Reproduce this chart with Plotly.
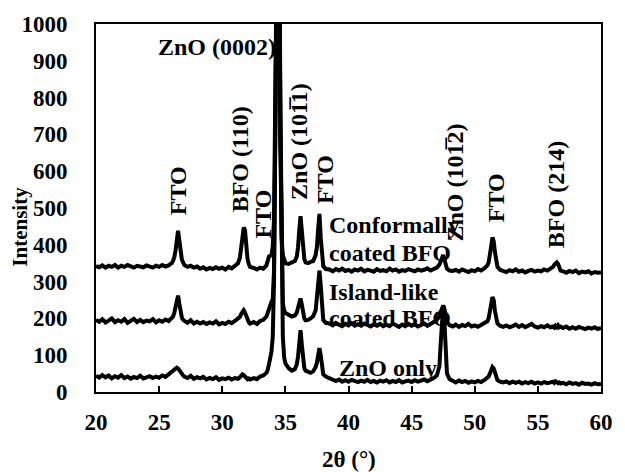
import plotly.graph_objects as go

two_theta = [
    20.0, 20.25, 20.5, 20.75, 21.0, 21.25, 21.5, 21.75, 22.0, 22.25, 22.5, 22.75, 23.0, 23.25, 23.5, 23.75, 24.0, 24.25, 24.5, 24.75, 25.0, 25.25, 25.5, 25.75, 26.0,
    26.1, 26.2, 26.3, 26.4, 26.5, 26.6, 26.7, 26.8, 26.9,
    27.0, 27.25, 27.5, 27.75, 28.0, 28.25, 28.5, 28.75, 29.0, 29.25, 29.5, 29.75, 30.0, 30.25, 30.5, 30.75, 31.0, 31.25,
    31.4, 31.5, 31.6, 31.7, 31.8, 31.9, 32.0, 32.1, 32.2,
    32.5, 32.75, 33.0, 33.25, 33.5,
    33.6, 33.7, 33.8, 33.9, 34.0, 34.1, 34.2, 34.3, 34.4, 34.5, 34.6, 34.7, 34.8, 34.9, 35.0,
    35.25, 35.5, 35.75,
    35.9, 36.0, 36.1, 36.2, 36.3, 36.4, 36.5, 36.6,
    36.8, 37.0, 37.2, 37.4,
    37.5, 37.6, 37.7, 37.8, 37.9, 38.0, 38.2,
    38.5, 38.75, 39.0, 39.25, 39.5, 39.75, 40.0, 40.25, 40.5, 40.75, 41.0, 41.25, 41.5, 41.75, 42.0, 42.25, 42.5, 42.75,
    43.0, 43.25, 43.5, 43.75, 44.0, 44.25, 44.5, 44.75, 45.0, 45.25, 45.5, 45.75, 46.0, 46.25, 46.5, 46.75, 47.0,
    47.2, 47.3, 47.4, 47.5, 47.6, 47.7, 47.8, 48.0,
    48.25, 48.5, 48.75, 49.0, 49.25, 49.5, 49.75, 50.0, 50.25, 50.5, 50.75, 51.0,
    51.1, 51.2, 51.3, 51.4, 51.5, 51.6, 51.7, 51.8, 52.0,
    52.25, 52.5, 52.75, 53.0, 53.25, 53.5, 53.75, 54.0, 54.25, 54.5, 54.75, 55.0, 55.25, 55.5, 55.75, 56.0,
    56.2, 56.3, 56.4, 56.5, 56.6, 56.7, 56.8,
    57.0, 57.25, 57.5, 57.75, 58.0, 58.25, 58.5, 58.75, 59.0, 59.25, 59.5, 59.75, 60.0,
]

conformal_bfo = [
    342, 339, 344, 338, 343, 340, 345, 338, 343, 340, 345, 341, 338, 343, 340, 339, 344, 342, 338, 343, 340, 345, 341, 344, 350,
    356, 366, 385, 420, 438, 412, 378, 360, 352,
    345, 340, 343, 338, 341, 335, 339, 333, 337, 334, 339, 335, 338, 333, 340, 336, 342, 350,
    365, 392, 425, 447, 440, 398, 362, 348, 340,
    337, 333, 338, 335, 344,
    356, 368, 370, 372, 395, 470, 800, 1400, 1500, 1400, 700, 420, 372, 358, 350,
    348, 352, 356,
    368, 392, 440, 478, 440, 390, 362, 352,
    350, 354, 356, 372,
    395, 445, 484, 420, 365, 342, 334,
    333, 328, 334, 330, 335, 329, 332, 327, 333, 330, 335, 328, 332, 330, 327, 334, 329, 331,
    328, 335, 330, 333, 327, 331, 329, 334, 330, 328, 333, 330, 332, 336, 330, 334, 338,
    346, 356, 368, 372, 360, 345, 335, 330,
    329, 332, 327, 333, 330, 326, 331, 328, 334, 330, 336, 344,
    352, 368, 395, 420, 410, 380, 352, 340, 332,
    329, 326, 331, 328, 333, 327, 330, 325, 329, 332, 327, 330, 328, 333, 330, 336,
    340, 346, 350, 352, 348, 338, 330,
    328, 324, 329, 326, 330, 323, 327, 325, 328, 322, 326, 324, 325,
]

island_bfo = [
    196, 191, 198, 189, 194, 200, 190, 195, 191, 198, 188, 193, 199, 190, 196, 190, 194, 192, 198, 189, 195, 191, 197, 193, 200,
    205, 215, 232, 252, 262, 240, 215, 202, 196,
    193, 188, 195, 186, 191, 186, 190, 185, 189, 186, 192, 184, 188, 185, 191, 187, 193, 198,
    204, 212, 220, 222, 216, 205, 196, 190, 186,
    190, 185, 193, 196, 205,
    215, 228, 238, 245, 252, 330, 700, 1300, 1500, 1400, 700, 330, 240, 222, 215,
    210, 205, 208,
    215, 228, 245, 254, 238, 212, 200, 195,
    196, 200, 206, 222,
    255, 300, 330, 290, 225, 196, 188,
    186, 181, 188, 183, 179, 185, 181, 187, 180, 184, 180, 186, 182, 178, 184, 180, 185, 179,
    183, 179, 186, 181, 177, 183, 179, 185, 180, 184, 178, 182, 186, 180, 184, 190, 196,
    205, 218, 230, 235, 225, 205, 190, 182,
    178, 183, 177, 182, 179, 185, 178, 181, 177, 182, 186, 192,
    200, 215, 238, 258, 250, 220, 197, 186, 180,
    177, 181, 176, 179, 183, 177, 182, 176, 180, 185, 178, 175, 179, 176, 181, 176,
    178, 175, 180, 176, 181, 176, 178,
    174, 178, 172, 176, 172, 177, 173, 171, 175, 172, 176, 171, 174,
]

zno_only = [
    44, 39, 46, 40, 45, 37, 43, 39, 46, 38, 42, 36, 41, 38, 44, 37, 40, 43, 38, 42, 39, 45, 41, 48, 52,
    55, 58, 62, 66, 64, 58, 52, 48, 45,
    42, 38, 44, 36, 40, 37, 41, 34, 38, 35, 40, 33, 37, 35, 39, 34, 38, 36,
    40, 44, 48, 46, 42, 38, 35, 37, 34,
    38, 35, 42, 45, 52,
    60, 75, 90, 110, 150, 300, 700, 1400, 1500, 1400, 800, 300, 150, 95, 78,
    65, 58, 62,
    75, 95, 140, 168, 130, 85, 65, 58,
    55, 52, 56, 68,
    80, 100, 119, 100, 65, 48, 42,
    38, 33, 30, 34, 28, 32, 28, 33, 29, 27, 31, 28, 33, 27, 30, 26, 31, 28,
    32, 26, 30, 27, 32, 26, 29, 31, 27, 32, 28, 30, 34, 29, 33, 38, 45,
    70, 130, 210, 235, 190, 90, 50, 35,
    30, 26, 31, 27, 30, 25, 29, 26, 30, 27, 32, 38,
    42, 50, 60, 68, 64, 50, 38, 32, 28,
    26, 29, 24, 28, 25, 28, 23, 27, 24, 28, 23, 26, 23, 27, 24, 26,
    28, 25, 29, 27, 24, 26, 23,
    25, 21, 26, 22, 24, 20, 25, 22, 23, 20, 24, 21, 22,
]

x_ticks = [20, 25, 30, 35, 40, 45, 50, 55, 60]
y_ticks = [0, 100, 200, 300, 400, 500, 600, 700, 800, 900, 1000]

peak_labels = [
    ("FTO", 26.5, 546),
    ("BFO (110)", 31.4, 632),
    ("FTO", 33.2, 484),
    ("ZnO (101\u03051)", 36.12, 681),
    ("FTO", 38.14, 576),
    ("ZnO (101\u03052)", 48.4, 568),
    ("FTO", 51.7, 527),
    ("BFO (214)", 56.5, 537),
]

sample_labels = [
    ("Conformally", 38.3, 454),
    ("coated BFO", 38.3, 379),
    ("Island-like", 38.3, 271),
    ("coated BFO", 38.3, 200),
]

FONT = "Liberation Serif, serif"
fs = 24
tfs = 23


def bold_font(size):
    return dict(family=FONT, size=size, color="black", weight="bold")


fig = go.Figure()
for ys in (zno_only, island_bfo, conformal_bfo):
    fig.add_trace(go.Scatter(x=two_theta, y=ys, mode="lines",
                             line=dict(color="black", width=4), showlegend=False))

annotations = []
for txt, x, y in peak_labels:
    annotations.append(dict(x=x, y=y, xref="x", yref="y", text=txt, textangle=-90,
                            showarrow=False, xanchor="center", yanchor="middle",
                            font=bold_font(fs)))
for txt, x, y in sample_labels:
    annotations.append(dict(x=x, y=y, xref="x", yref="y", text=txt,
                            showarrow=False, xanchor="left", yanchor="middle",
                            font=bold_font(fs)))
annotations.append(dict(x=34.4, y=938, xref="x", yref="y", text="ZnO (0002)",
                        showarrow=False, xanchor="right", yanchor="middle",
                        font=bold_font(fs)))
annotations.append(dict(x=47.2, y=65, xref="x", yref="y", text="ZnO only",
                        showarrow=False, xanchor="right", yanchor="middle",
                        font=bold_font(fs)))
annotations.append(dict(x=-0.123, y=0.449, xref="paper", yref="paper", text="Intensity",
                        textangle=-90, showarrow=False, xanchor="right", yanchor="middle",
                        font=bold_font(21)))
annotations.append(dict(x=0.5, y=-0.184, xref="paper", yref="paper", text="2θ (°)",
                        showarrow=False, xanchor="center", yanchor="middle",
                        font=bold_font(tfs)))

fig.update_layout(
    width=625, height=472,
    margin=dict(l=96, r=13, t=22, b=80),
    paper_bgcolor="white", plot_bgcolor="white",
    annotations=annotations,
    xaxis=dict(range=[20, 60], tickvals=x_ticks, showgrid=False, zeroline=False,
               showline=True, linecolor="black", linewidth=2, mirror=True,
               ticks="inside", ticklen=6, tickwidth=2, tickcolor="black",
               ticklabelstandoff=8, tickfont=bold_font(tfs)),
    yaxis=dict(range=[0, 1000], tickvals=y_ticks, showgrid=False, zeroline=False,
               showline=True, linecolor="black", linewidth=2, mirror=True,
               ticks="", ticklabelstandoff=22, tickfont=bold_font(tfs)),
)

fig.write_html("out.html")
